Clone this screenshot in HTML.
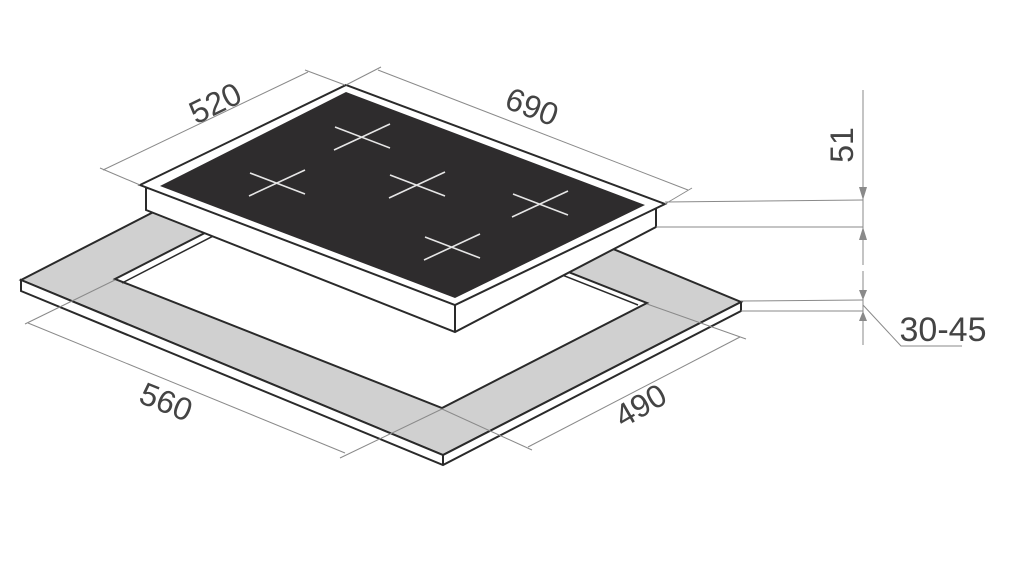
<!DOCTYPE html>
<html><head><style>body{margin:0;background:#fff}svg{display:block}</style></head><body>
<svg width="1032" height="566" viewBox="0 0 1032 566" xmlns="http://www.w3.org/2000/svg">
<g stroke-linejoin="miter">
<polygon points="21,280 319,127 741,302 443,455" fill="#d0d0d0" stroke="#2a2a2a" stroke-width="2"/>
<polygon points="21,280 443,455 741,302 741,311 443,465 21,291" fill="#fff" stroke="#2a2a2a" stroke-width="2"/>
<line x1="443" y1="455" x2="443" y2="465" stroke="#2a2a2a" stroke-width="2"/>
<polygon points="115,279 320,174 647,303 442,408" fill="#fff" stroke="#2a2a2a" stroke-width="2"/>
<polyline points="122,283 322,180 638,305" fill="none" stroke="#2a2a2a" stroke-width="1.5"/>
<path d="M146,188 L146,210 L455,332 L656,227 L656,206 Z" fill="#fff" stroke="#2a2a2a" stroke-width="2"/>
<polygon points="140,185 346,85 665,204 455,305" fill="#fff" stroke="#2a2a2a" stroke-width="2"/>
<line x1="455" y1="305" x2="455" y2="332" stroke="#2a2a2a" stroke-width="2"/>
<polygon points="160,186 346,92 645,205 455,298" fill="#2e2c2d"/>
</g>
<g stroke="#e6e6e6" stroke-width="1.6">
<line x1="334" y1="150" x2="390" y2="124"/><line x1="335" y1="127" x2="390" y2="148"/>
<line x1="249" y1="196" x2="305" y2="170"/><line x1="250" y1="173" x2="305" y2="194"/>
<line x1="389" y1="198" x2="445" y2="172"/><line x1="390" y1="175" x2="445" y2="196"/>
<line x1="512" y1="217" x2="568" y2="191"/><line x1="513" y1="194" x2="568" y2="215"/>
<line x1="424" y1="260" x2="480" y2="234"/><line x1="425" y1="237" x2="480" y2="258"/>
</g>
<g stroke="#8a8a8a" stroke-width="1" fill="none">
<line x1="103" y1="170" x2="308" y2="72"/>
<line x1="100" y1="168" x2="140" y2="185"/><line x1="305" y1="70" x2="345" y2="85"/>
<line x1="378" y1="70" x2="688" y2="190"/>
<line x1="381" y1="67" x2="346" y2="85"/><line x1="692" y1="188" x2="665" y2="204"/>
<line x1="28" y1="323" x2="345" y2="453"/>
<line x1="25" y1="324" x2="115" y2="280"/><line x1="340" y1="458" x2="442" y2="409"/>
<line x1="528" y1="447" x2="740" y2="337"/>
<line x1="442" y1="409" x2="532" y2="450"/><line x1="647" y1="304" x2="746" y2="339"/>
<line x1="863" y1="90" x2="863" y2="265"/><line x1="863" y1="271" x2="863" y2="345"/>
<line x1="665" y1="202" x2="863" y2="200"/><line x1="656" y1="227" x2="863" y2="227"/>
<line x1="741" y1="301" x2="863" y2="300"/><line x1="741" y1="311" x2="863" y2="311"/>
<polyline points="863,305 901,346 962,346"/>
</g>
<g fill="#8a8a8a">
<polygon points="863,200 859,187 867,187"/><polygon points="863,227 859,240 867,240"/>
<polygon points="863,300 859,290 867,290"/><polygon points="863,311 859,321 867,321"/>
</g>
<g font-family="Liberation Sans, sans-serif" font-size="32" fill="#444" text-anchor="middle">
<text transform="translate(220,113) rotate(-26)">520</text>
<text transform="translate(528,117) rotate(21)">690</text>
<text transform="translate(162,412) rotate(22)">560</text>
<text transform="translate(646,415) rotate(-30)">490</text>
<text transform="translate(853,145) rotate(-90)">51</text>
<text x="943" y="341" font-size="34">30-45</text>
</g>
</svg>
</body></html>
